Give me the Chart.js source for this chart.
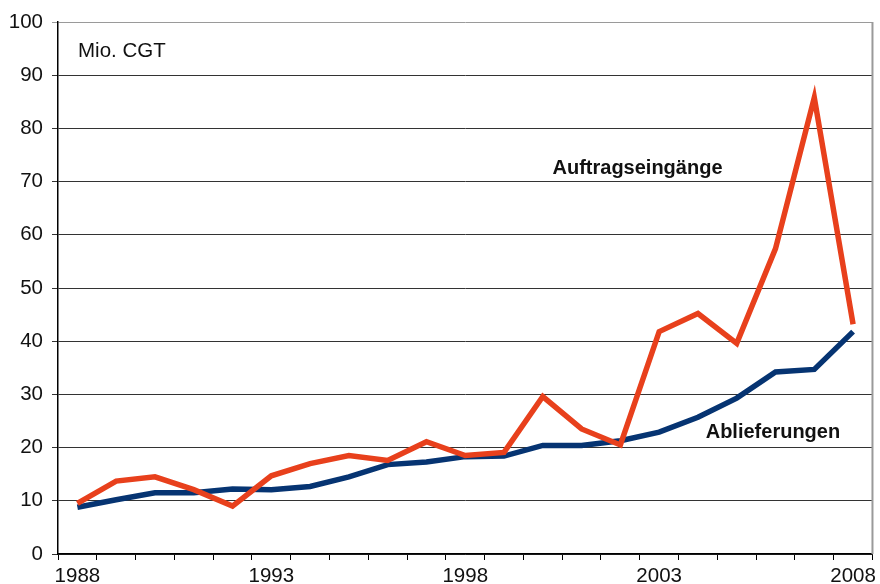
<!DOCTYPE html>
<html>
<head>
<meta charset="utf-8">
<script src="https://cdn.jsdelivr.net/npm/chart.js@4/dist/chart.umd.min.js"></script>
<style>
  html, body { margin: 0; padding: 0; background: #fff; }
  #wrap { width: 880px; height: 584px; }
</style>
</head>
<body>
<div id="wrap"><canvas id="c" width="880" height="584"></canvas></div>
<script>
// Jahre 1988–2008
const years = ['1988','1989','1990','1991','1992','1993','1994','1995','1996','1997','1998',
               '1999','2000','2001','2002','2003','2004','2005','2006','2007','2008'];
// Auftragseingänge, Mio. CGT
const orders = [9.5, 13.7, 14.5, 12.1, 9.0, 14.7, 17.0, 18.5, 17.6, 21.1, 18.5,
                19.1, 29.6, 23.5, 20.5, 41.8, 45.2, 39.6, 57.4, 85.8, 43.2];
// Ablieferungen, Mio. CGT
const deliveries = [8.8, 10.2, 11.5, 11.5, 12.2, 12.1, 12.7, 14.5, 16.8, 17.3, 18.3,
                    18.4, 20.4, 20.4, 21.3, 22.9, 25.7, 29.3, 34.2, 34.7, 41.8];
const yTicks = [0, 10, 20, 30, 40, 50, 60, 70, 80, 90, 100];

const FONT = '"Liberation Sans", Arial, Helvetica, sans-serif';

// Beschriftungen im Diagramm und rechter Rahmen
const annotations = {
  id: 'annotations',
  afterDraw(chart) {
    const { ctx, chartArea, scales } = chart;
    const x = scales.x, y = scales.y;
    ctx.save();
    // rechter Rahmen
    ctx.strokeStyle = '#9a9a9a';
    ctx.lineWidth = 2;
    ctx.beginPath();
    ctx.moveTo(chartArea.right, chartArea.top);
    ctx.lineTo(chartArea.right, chartArea.bottom);
    ctx.stroke();

    ctx.fillStyle = '#111';
    ctx.textBaseline = 'middle';
    ctx.textAlign = 'left';
    ctx.font = '20.5px ' + FONT;
    ctx.fillText('Mio. CGT', chartArea.left + 20, y.getPixelForValue(94.5));
    ctx.font = 'bold 20px ' + FONT;
    ctx.fillText('Auftragseingänge', x.getPixelForValue(12.25), y.getPixelForValue(72.5));
    ctx.fillText('Ablieferungen', x.getPixelForValue(16.2), y.getPixelForValue(22.8));
    ctx.restore();
  }
};

new Chart(document.getElementById('c'), {
  type: 'line',
  data: {
    labels: years,
    datasets: [
      {
        label: 'Auftragseingänge',
        data: orders,
        borderColor: '#e8401c',
        borderWidth: 5.5,
        pointRadius: 0,
        tension: 0,
        order: 0
      },
      {
        label: 'Ablieferungen',
        data: deliveries,
        borderColor: '#063472',
        borderWidth: 5.5,
        pointRadius: 0,
        tension: 0,
        order: 1
      }
    ]
  },
  options: {
    responsive: false,
    animation: false,
    devicePixelRatio: 1,
    layout: { padding: { top: 22, right: 5, left: 0, bottom: 0 } },
    plugins: {
      legend: { display: false },
      tooltip: { enabled: false }
    },
    scales: {
      x: {
        type: 'category',
        offset: true,
        grid: {
          offset: true,
          drawOnChartArea: false,
          drawTicks: true,
          tickLength: 6,
          color: '#000'
        },
        border: { color: '#000', width: 1.5 },
        ticks: {
          autoSkip: false,
          maxRotation: 0,
          padding: 4,
          color: '#111',
          font: { family: FONT, size: 20.5 },
          callback: (v, i) => (i % 5 === 0 ? years[i] : '')
        },
        afterFit(scale) { scale.height = 30; }
      },
      y: {
        min: 0,
        max: 100,
        afterBuildTicks(scale) { scale.ticks = yTicks.map(v => ({ value: v })); },
        grid: {
          drawTicks: true,
          tickLength: 6,
          lineWidth: 1,
          color: (c) => (c.tick && c.tick.value === 100 ? '#9a9a9a' : '#333')
        },
        border: { color: '#000', width: 1.5 },
        ticks: {
          padding: 9,
          color: '#111',
          font: { family: FONT, size: 20.5 }
        },
        afterFit(scale) { scale.width = 58; }
      }
    }
  },
  plugins: [annotations]
});
</script>
</body>
</html>
